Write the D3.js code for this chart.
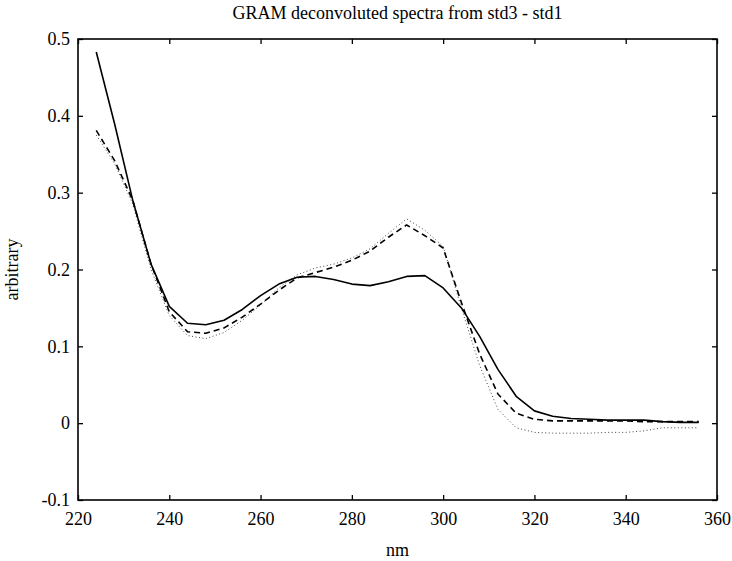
<!DOCTYPE html>
<html>
<head>
<meta charset="utf-8">
<script src="https://cdn.jsdelivr.net/npm/d3@7"></script>
<style>
  body { margin: 0; background: #fff; }
  svg { display: block; font-family: "Liberation Serif", "DejaVu Serif", serif; }
</style>
</head>
<body>
<svg id="chart" width="732" height="561"></svg>
<script>
// wavelength grid (nm)
const wavelengths = [224, 228, 232, 236, 240, 244, 248, 252, 256, 260, 264, 268, 272, 276, 280, 284, 288,
  292, 296, 300, 304, 308, 312, 316, 320, 324, 328, 332, 336, 340, 344, 348, 352, 356];

const solidSeries = [0.483, 0.390, 0.290, 0.207, 0.152, 0.130, 0.128, 0.134, 0.148, 0.166, 0.181, 0.190, 0.191,
  0.187, 0.181, 0.179, 0.184, 0.191, 0.192, 0.176, 0.150, 0.113, 0.070, 0.035, 0.016, 0.009, 0.006, 0.005,
  0.004, 0.004, 0.004, 0.002, 0.001, 0.001];

const dashedSeries = [0.381, 0.342, 0.290, 0.207, 0.145, 0.119, 0.117, 0.124, 0.138, 0.155, 0.173, 0.189, 0.196,
  0.203, 0.212, 0.224, 0.242, 0.258, 0.244, 0.228, 0.157, 0.090, 0.038, 0.013, 0.005, 0.003, 0.003, 0.003,
  0.003, 0.003, 0.002, 0.002, 0.002, 0.002];

const dottedSeries = [0.375, 0.338, 0.285, 0.200, 0.140, 0.114, 0.110, 0.118, 0.134, 0.154, 0.176, 0.193, 0.202,
  0.207, 0.215, 0.227, 0.247, 0.266, 0.251, 0.230, 0.150, 0.075, 0.018, -0.006, -0.012, -0.013, -0.013, -0.013,
  -0.012, -0.012, -0.010, -0.006, -0.006, -0.006];

const xTicks = [220, 240, 260, 280, 300, 320, 340, 360];
const yTicks = [-0.1, 0, 0.1, 0.2, 0.3, 0.4, 0.5];

const titleText = "GRAM deconvoluted spectra from std3 - std1";
const xLabel = "nm";
const yLabel = "arbitrary";

const serif = '"Liberation Serif", "DejaVu Serif", serif';

function drawChart() {
  const svg = d3.select("#chart");
  const m = { left: 78, right: 15, top: 39, bottom: 61 };
  const w = 732, h = 561;

  const x = d3.scaleLinear().domain([220, 360]).range([m.left, w - m.right]);
  const y = d3.scaleLinear().domain([-0.1, 0.5]).range([h - m.bottom, m.top]);

  const tickLen = 5;

  // bottom / top axes, ticks pointing inward
  svg.append("g")
    .attr("transform", `translate(0,${h - m.bottom})`)
    .call(d3.axisBottom(x).tickValues(xTicks).tickSizeInner(-tickLen).tickSizeOuter(0).tickPadding(12))
    .call(g => g.attr("font-family", serif).attr("font-size", 18))
    .call(g => g.selectAll("text").attr("fill", "#000"));
  svg.append("g")
    .attr("transform", `translate(0,${m.top})`)
    .call(d3.axisTop(x).tickValues(xTicks).tickSizeInner(-tickLen).tickSizeOuter(0).tickFormat(""));

  svg.append("g")
    .attr("transform", `translate(${m.left},0)`)
    .call(d3.axisLeft(y).tickValues(yTicks).tickSizeInner(-tickLen).tickSizeOuter(0).tickPadding(8)
      .tickFormat(d => String(+d.toFixed(1))))
    .call(g => g.attr("font-family", serif).attr("font-size", 18))
    .call(g => g.selectAll("text").attr("fill", "#000"));
  svg.append("g")
    .attr("transform", `translate(${w - m.right},0)`)
    .call(d3.axisRight(y).tickValues(yTicks).tickSizeInner(-tickLen).tickSizeOuter(0).tickFormat(""));

  svg.selectAll(".domain").remove();
  svg.selectAll(".tick line").attr("stroke", "#000").attr("stroke-width", 1.3);

  svg.append("rect")
    .attr("x", m.left)
    .attr("y", m.top)
    .attr("width", w - m.right - m.left)
    .attr("height", h - m.bottom - m.top)
    .attr("fill", "none")
    .attr("stroke", "#000")
    .attr("stroke-width", 1.6);

  const series = [
    { values: dottedSeries, color: "#444", width: 1, dash: "1,2.5" },
    { values: dashedSeries, color: "#000", width: 1.6, dash: "6,4" },
    { values: solidSeries, color: "#000", width: 1.6 },
  ];

  const line = d3.line()
    .x(d => x(d.nm))
    .y(d => y(d.value));

  series.forEach(s => {
    const values = wavelengths.map((nm, i) => ({ nm, value: s.values[i] }));
    const path = svg.append("path")
      .datum(values)
      .attr("fill", "none")
      .attr("stroke", s.color)
      .attr("stroke-width", s.width)
      .attr("stroke-linejoin", "round")
      .attr("d", line);
    if (s.dash) path.attr("stroke-dasharray", s.dash);
  });

  svg.append("text")
    .attr("x", (m.left + w - m.right) / 2)
    .attr("y", 19)
    .attr("text-anchor", "middle")
    .attr("font-size", 18)
    .text(titleText);

  svg.append("text")
    .attr("x", (m.left + w - m.right) / 2)
    .attr("y", 556)
    .attr("text-anchor", "middle")
    .attr("font-size", 18)
    .text(xLabel);

  svg.append("text")
    .attr("transform", `translate(18,${(m.top + h - m.bottom) / 2}) rotate(-90)`)
    .attr("text-anchor", "middle")
    .attr("font-size", 18)
    .text(yLabel);
}

drawChart();
</script>
</body>
</html>
